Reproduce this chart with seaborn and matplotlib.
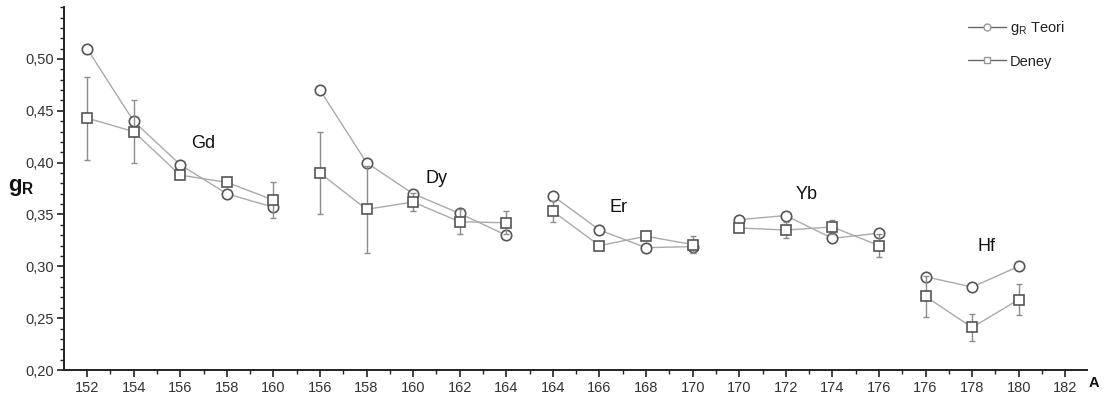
import matplotlib
matplotlib.use("Agg")
import matplotlib.pyplot as plt
from matplotlib.lines import Line2D
from matplotlib.ticker import FixedLocator, MultipleLocator, FuncFormatter
import numpy as np
import pandas as pd
import seaborn as sns

# Mass numbers shown on the x axis (one slot per isotope, plus a trailing 182)
tick_labels = ["152", "154", "156", "158", "160",
               "156", "158", "160", "162", "164",
               "164", "166", "168", "170",
               "170", "172", "174", "176",
               "176", "178", "180", "182"]

elements = ["Gd", "Dy", "Er", "Yb", "Hf"]
group_sizes = [5, 5, 4, 4, 3]

teori = [0.510, 0.440, 0.398, 0.370, 0.357,
         0.470, 0.400, 0.370, 0.351, 0.330,
         0.368, 0.335, 0.318, 0.319,
         0.345, 0.349, 0.327, 0.332,
         0.290, 0.280, 0.300]

deney = [0.443, 0.430, 0.388, 0.381, 0.364,
         0.390, 0.355, 0.362, 0.343, 0.342,
         0.353, 0.320, 0.329, 0.321,
         0.337, 0.335, 0.338, 0.320,
         0.271, 0.241, 0.268]

deney_err = [0.040, 0.030, 0.000, 0.000, 0.017,
             0.040, 0.042, 0.009, 0.012, 0.011,
             0.010, 0.000, 0.000, 0.008,
             0.000, 0.008, 0.007, 0.011,
             0.020, 0.0135, 0.0145]

# Where each element name sits (x slot, g_R value)
element_label_pos = [(2.5, 0.418), (7.5, 0.385), (11.4, 0.357), (15.45, 0.369), (19.3, 0.319)]

group = np.repeat(elements, group_sizes)
df = pd.DataFrame({
    "pos": np.arange(len(teori)),
    "group": group,
    "teori": teori,
    "deney": deney,
    "err": deney_err,
})

sns.set_theme(style="ticks")
plt.rcParams["font.family"] = ["Liberation Sans", "DejaVu Sans"]
plt.rcParams["mathtext.fontset"] = "custom"
plt.rcParams["mathtext.rm"] = "Liberation Sans"
plt.rcParams["mathtext.bf"] = "Liberation Sans:bold"

fig = plt.figure(figsize=(11.06, 3.97), dpi=100)
ax = fig.add_axes([0.0579, 0.068, 0.9251, 0.914])

line_col = "#aaaaaa"
edge_col = "#555555"
err_col = "#8c8c8c"

sns.lineplot(data=df, x="pos", y="teori", units="group", estimator=None,
             color=line_col, linewidth=1.0, marker="o", markersize=7.5,
             markerfacecolor="white", markeredgecolor=edge_col,
             markeredgewidth=1.2, ax=ax, zorder=2, legend=False)

mask = df["err"] > 0
ax.errorbar(df.loc[mask, "pos"], df.loc[mask, "deney"], yerr=df.loc[mask, "err"],
            fmt="none", ecolor=err_col, elinewidth=1.0, capsize=2.5,
            capthick=1.0, zorder=3)

sns.lineplot(data=df, x="pos", y="deney", units="group", estimator=None,
             color=line_col, linewidth=1.0, marker="s", markersize=6.5,
             markerfacecolor="white", markeredgecolor=edge_col,
             markeredgewidth=1.2, ax=ax, zorder=4, legend=False)

for name, (xp, yp) in zip(elements, element_label_pos):
    ax.text(xp, yp, name, fontsize=13, ha="center", va="center", color="#111111")

ax.set_xlim(-0.494, 21.47)
ax.set_ylim(0.20, 0.55)

ax.set_xticks(np.arange(len(tick_labels)))
ax.set_xticklabels(tick_labels)
ax.xaxis.set_minor_locator(FixedLocator(np.arange(0.5, 21.6, 1.0)))
ax.yaxis.set_major_locator(FixedLocator([0.20, 0.25, 0.30, 0.35, 0.40, 0.45, 0.50]))
ax.yaxis.set_minor_locator(MultipleLocator(0.01))
ax.yaxis.set_major_formatter(FuncFormatter(lambda v, p: f"{v:.2f}".replace(".", ",")))

ax.set_xlabel("")
ax.set_ylabel("")
sns.despine(ax=ax)
for s in ("left", "bottom"):
    ax.spines[s].set_color("#222222")
    ax.spines[s].set_linewidth(1.4)

ax.tick_params(axis="both", which="major", direction="out", length=5, width=1.2,
               colors="#222222", labelsize=10.5, labelcolor="#333333", pad=3)
ax.tick_params(axis="y", which="major", pad=2)
ax.tick_params(axis="both", which="minor", direction="out", length=3, width=1.0,
               colors="#222222")

fig.text(0.007, 1 - 187 / 397, r"$\mathbf{g}_{\mathbf{R}}$", fontsize=16,
         ha="left", va="center", color="#111111")
fig.text(1094 / 1106, 1 - 383 / 397, "A", fontsize=10.5, fontweight="bold",
         ha="center", va="center", color="#111111")

handles = [
    Line2D([], [], color="#666666", linewidth=1.0, marker="o", markersize=5,
           markerfacecolor="white", markeredgecolor="#999999"),
    Line2D([], [], color="#666666", linewidth=1.0, marker="s", markersize=5,
           markerfacecolor="white", markeredgecolor="#999999"),
]
fig.legend(handles, [r"g$_\mathrm{R}$ Teori", "Deney"], loc="upper left",
           bbox_to_anchor=(0.863, 0.985), frameon=False, fontsize=10.5,
           handlelength=2.6, handletextpad=0.3, labelspacing=1.2,
           labelcolor="#222222")

fig.savefig("out.png", dpi=100, facecolor="white")
